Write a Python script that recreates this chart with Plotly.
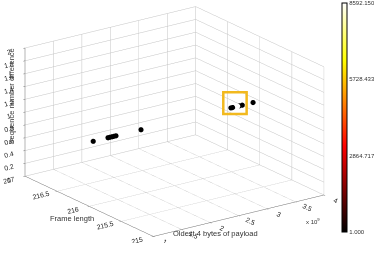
import plotly.graph_objects as go

# Data (x in units of 1e9)
payload = [1.07, 1.33, 1.36, 1.40, 1.43, 1.47, 1.91,
           3.49, 3.52, 3.61, 3.64, 3.69, 3.88]
frame_len = [216] * 13
seq_diff = [1] * 13
counts = [1, 1, 1, 1, 1, 1, 1,
          1, 1, 8592.150, 1, 1, 1]

x_ticks = [1, 1.5, 2, 2.5, 3, 3.5, 4]
y_ticks = [215, 215.5, 216, 216.5, 217]
z_ticks = [0, 0.2, 0.4, 0.6, 0.8, 1, 1.2, 1.4, 1.6, 1.8, 2]
cbar_ticks = [1.000, 2864.717, 5728.433, 8592.150]
cbar_labels = ["1.000", "2864.717", "5728.433", "8592.150"]

hot = [[0, "rgb(0,0,0)"], [0.375, "rgb(255,0,0)"],
       [0.75, "rgb(255,255,0)"], [1, "rgb(255,255,255)"]]

fig = go.Figure(go.Scatter3d(
    x=payload, y=frame_len, z=seq_diff, mode="markers",
    marker=dict(size=3, color=counts, colorscale=hot, cmin=1, cmax=8592.150,
                line=dict(width=0),
                colorbar=dict(x=0.925, xanchor="left", y=0.541, yanchor="middle",
                              len=0.895, lenmode="fraction", thickness=5,
                              outlinewidth=1, outlinecolor="black",
                              tickvals=cbar_ticks, ticktext=cbar_labels,
                              ticks="", tickfont=dict(size=6, color="#333",
                                                      family="Liberation Sans"),
                              xpad=0, ypad=0)),
    showlegend=False))

ax_common = dict(showbackground=False, gridcolor="rgb(195,195,195)", gridwidth=1,
                 showline=True, linecolor="rgb(110,110,110)", linewidth=1,
                 zeroline=False, ticks="outside", ticklen=2, tickcolor="rgb(110,110,110)",
                 tickfont=dict(size=9, color="#222", family="Liberation Sans"),
                 title=dict(text=""), showspikes=False)

s = 1.73
fig.update_layout(
    width=374, height=256, margin=dict(l=0, r=0, t=0, b=0),
    paper_bgcolor="white",
    scene=dict(
        domain=dict(x=[0, 0.944], y=[0.05, 1]),
        xaxis=dict(range=[1, 4], tickvals=x_ticks, **ax_common),
        yaxis=dict(range=[215, 217], tickvals=y_ticks, **ax_common),
        zaxis=dict(range=[0, 2], tickvals=z_ticks, **ax_common),
        aspectmode="manual", aspectratio=dict(x=1 * s, y=1.045 * s, z=0.648 * s),
        camera=dict(projection=dict(type="orthographic"),
                    eye=dict(x=-0.550 * 2, y=-0.765 * 2, z=0.338 * 2),
                    up=dict(x=0, y=0, z=1), center=dict(x=0, y=0, z=0)),
    ),
    shapes=[dict(type="rect", xref="paper", yref="paper",
                 x0=225.7 / 374, x1=249.3 / 374,
                 y0=1 - 114 / 256, y1=1 - 92.3 / 256,
                 line=dict(color="rgb(242,185,30)", width=2.5))],
    annotations=[
        dict(text="Oldest 4 bytes of payload", x=263 / 374, y=1 - 240 / 256,
             xref="paper", yref="paper", showarrow=False,
             font=dict(size=7.5, color="#333", family="Liberation Sans")),
        dict(text="Frame length", x=49 / 374, y=1 - 225 / 256,
             xref="paper", yref="paper", showarrow=False,
             font=dict(size=7.5, color="#333", family="Liberation Sans")),
        dict(text="Sequence number difference", x=5 / 374, y=1 - 96 / 256,
             xref="paper", yref="paper", showarrow=False, textangle=-90,
             font=dict(size=7.5, color="#333", family="Liberation Sans")),
        dict(text="x 10<sup>9</sup>", x=325 / 374, y=1 - 227 / 256,
             xref="paper", yref="paper", showarrow=False,
             font=dict(size=6, color="#333", family="Liberation Sans")),
    ],
)

fig.write_html("out.html")
